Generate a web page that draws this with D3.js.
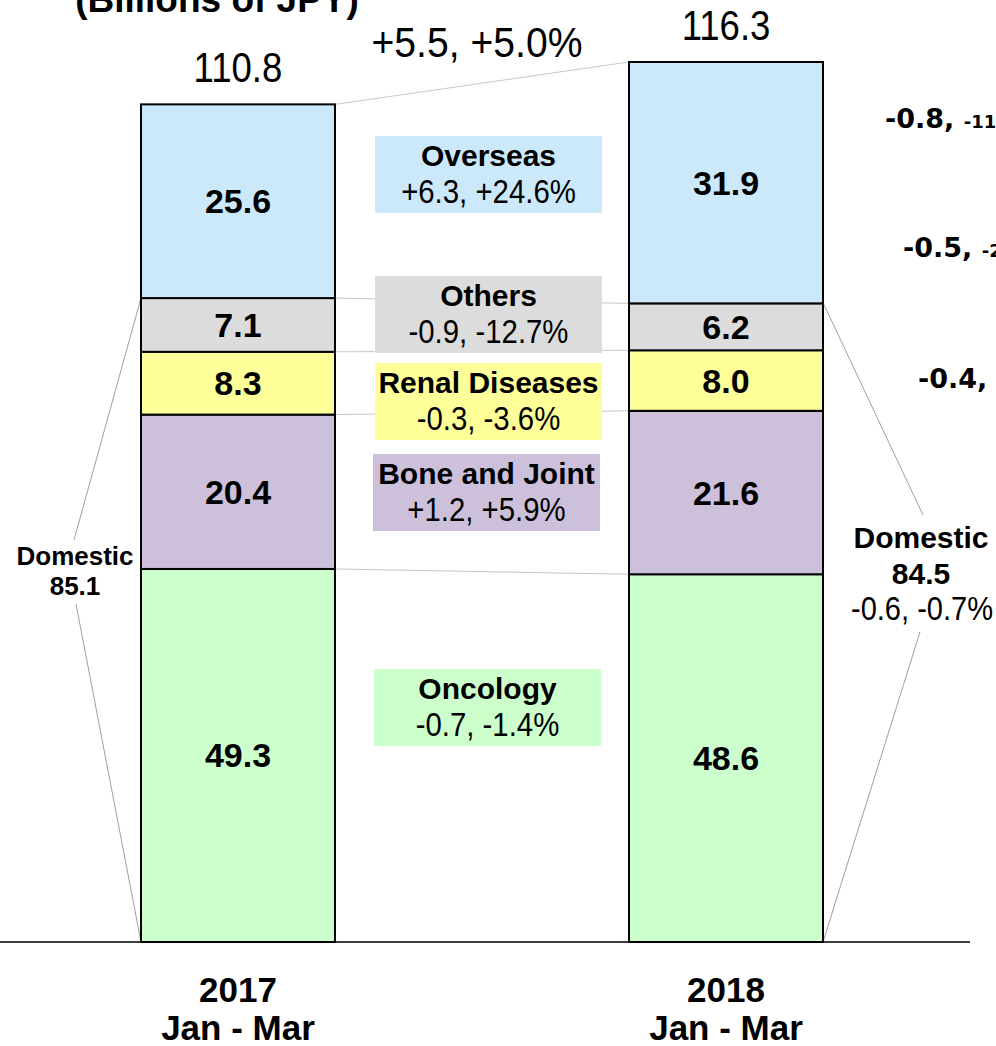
<!DOCTYPE html>
<html>
<head>
<meta charset="utf-8">
<script src="https://cdn.jsdelivr.net/npm/d3@7"></script>
<style>
  body { margin: 0; background: #fff; }
  svg { display: block; }
  .bold { font-family: "Liberation Sans", Arial, sans-serif; font-weight: 700; }
  .reg { font-family: "Liberation Sans", Arial, sans-serif; font-weight: 400; }
  .wide { font-family: "DejaVu Sans", Verdana, sans-serif; font-weight: 700; }
</style>
</head>
<body>
<svg id="chart" width="996" height="1046"></svg>
<script>
"use strict";

// categories, bottom to top in the stack
var segments = ["Oncology", "Bone and Joint", "Renal Diseases", "Others", "Overseas"];
var colors = ["#ccffcc", "#ccc0da", "#ffff99", "#dcdcdc", "#cce9fb"];

var periods = ["2017", "2018"];
var periodSub = ["Jan - Mar", "Jan - Mar"];

// values (billions of JPY)
var values2017 = [49.3, 20.4, 8.3, 7.1, 25.6];
var values2018 = [48.6, 21.6, 8.0, 6.2, 31.9];
var totals = [110.8, 116.3];
var domestic = [85.1, 84.5];

// change labels
var changes = ["-0.7, -1.4%", "+1.2, +5.9%", "-0.3, -3.6%", "-0.9, -12.7%", "+6.3, +24.6%"];
var totalChange = "+5.5, +5.0%";
var domesticChange = "-0.6, -0.7%";
var sideMain = ["-0.8,", "-0.5,", "-0.4,"];
var sideSmall = ["-11", "-2", "-"];

var svg = d3.select("#chart");

var baseY = 942;
var y = d3.scaleLinear().domain([0, 116.3]).range([baseY, 62]);
var x = d3.scaleBand().domain(periods).range([141, 823]).paddingInner(0.6025).paddingOuter(0);

// squeeze regular text a bit, the original uses a narrower face
function condense(sel, k) {
    sel.each(function() {
        var len = this.getComputedTextLength();
        d3.select(this).attr("textLength", len * k).attr("lengthAdjust", "spacingAndGlyphs");
    });
}

// stack each period's segments
var stacked = periods.map(function(p, pi) {
    var vals = pi === 0 ? values2017 : values2018;
    var acc = 0;
    return vals.map(function(v, i) {
        var d = { period: p, cat: segments[i], i: i, v: v, y0: acc, y1: acc + v };
        acc += v;
        return d;
    });
});

// title (cut off at top)
svg.append("text").attr("class", "bold")
    .attr("x", 217).attr("y", 12)
    .attr("text-anchor", "middle")
    .attr("font-size", 37)
    .text("(Billions of JPY)");

// connector lines between bars
var xl = x("2017") + x.bandwidth(), xr = x("2018");
var bounds = stacked[0].map(function(d, i) { return [d.y1, stacked[1][i].y1]; });
svg.append("g").selectAll("line").data(bounds).enter().append("line")
    .attr("x1", xl).attr("x2", xr)
    .attr("y1", function(d) { return y(d[0]); })
    .attr("y2", function(d) { return y(d[1]); })
    .attr("stroke", "#c8c8c8").attr("stroke-width", 1);

// domestic bracket lines
var dl = svg.append("g").attr("stroke", "#a0a0a0").attr("stroke-width", 1);
dl.append("line").attr("x1", x("2017")).attr("y1", y(domestic[0]))
    .attr("x2", 74).attr("y2", 540);
dl.append("line").attr("x1", 76).attr("y1", 604)
    .attr("x2", x("2017")).attr("y2", baseY);
dl.append("line").attr("x1", xr + x.bandwidth()).attr("y1", y(domestic[1]))
    .attr("x2", 923).attr("y2", 515);
dl.append("line").attr("x1", 920).attr("y1", 632)
    .attr("x2", xr + x.bandwidth()).attr("y2", baseY);

// legend boxes in the middle
var legendY = [669, 454, 363, 276, 136];
var legendX = [374, 373, 375, 375, 375];
var lg = svg.append("g").selectAll("g").data(segments).enter().append("g")
    .attr("transform", function(d, i) { return "translate(" + legendX[i] + "," + legendY[i] + ")"; });
lg.append("rect").attr("width", 227).attr("height", 77)
    .attr("fill", function(d, i) { return colors[i]; });
lg.append("text").attr("class", "bold")
    .attr("x", 113.5).attr("y", 30)
    .attr("text-anchor", "middle").attr("font-size", 30)
    .text(function(d) { return d; });
lg.append("text").attr("class", "reg")
    .attr("x", 113.5).attr("y", 67)
    .attr("text-anchor", "middle").attr("font-size", 33)
    .text(function(d, i) { return changes[i]; })
    .call(condense, 0.89);

// bars
var bars = svg.append("g").selectAll("g").data(stacked).enter().append("g");
bars.selectAll("rect").data(function(d) { return d; }).enter().append("rect")
    .attr("x", function(d) { return x(d.period); })
    .attr("width", x.bandwidth())
    .attr("y", function(d) { return y(d.y1); })
    .attr("height", function(d) { return y(d.y0) - y(d.y1); })
    .attr("fill", function(d) { return colors[d.i]; })
    .attr("stroke", "#000").attr("stroke-width", 2);
bars.selectAll("text").data(function(d) { return d; }).enter().append("text")
    .attr("class", "bold")
    .attr("x", function(d) { return x(d.period) + x.bandwidth() / 2; })
    .attr("y", function(d) { return (y(d.y0) + y(d.y1)) / 2 + 12; })
    .attr("text-anchor", "middle").attr("font-size", 34)
    .text(function(d) { return d.v.toFixed(1); });

// totals above bars
svg.selectAll(".total").data(periods).enter().append("text")
    .attr("class", "reg total")
    .attr("x", function(d) { return x(d) + x.bandwidth() / 2; })
    .attr("y", function(d, i) { return y(totals[i]) - 22; })
    .attr("text-anchor", "middle").attr("font-size", 42)
    .text(function(d, i) { return totals[i].toFixed(1); })
    .call(condense, 0.87);

svg.append("text").attr("class", "reg")
    .attr("x", 477).attr("y", 57)
    .attr("text-anchor", "middle").attr("font-size", 43)
    .text(totalChange)
    .call(condense, 0.91);

// baseline axis
svg.append("line").attr("x1", 0).attr("x2", 970)
    .attr("y1", baseY).attr("y2", baseY)
    .attr("stroke", "#000").attr("stroke-width", 1.5);

// period labels
var pl = svg.append("g").selectAll("g").data(periods).enter().append("g");
pl.append("text").attr("class", "bold")
    .attr("x", function(d) { return x(d) + x.bandwidth() / 2; })
    .attr("y", 1002).attr("text-anchor", "middle").attr("font-size", 35)
    .text(function(d) { return d; });
pl.append("text").attr("class", "bold")
    .attr("x", function(d) { return x(d) + x.bandwidth() / 2; })
    .attr("y", 1040).attr("text-anchor", "middle").attr("font-size", 35)
    .text(function(d, i) { return periodSub[i]; });

// domestic labels
svg.append("text").attr("class", "bold")
    .attr("x", 75).attr("y", 565).attr("text-anchor", "middle").attr("font-size", 26)
    .text("Domestic");
svg.append("text").attr("class", "bold")
    .attr("x", 75).attr("y", 595).attr("text-anchor", "middle").attr("font-size", 26)
    .text(domestic[0].toFixed(1));
svg.append("text").attr("class", "bold")
    .attr("x", 921).attr("y", 548).attr("text-anchor", "middle").attr("font-size", 30)
    .text("Domestic");
svg.append("text").attr("class", "bold")
    .attr("x", 921).attr("y", 584).attr("text-anchor", "middle").attr("font-size", 30)
    .text(domestic[1].toFixed(1));
svg.append("text").attr("class", "reg")
    .attr("x", 922).attr("y", 620).attr("text-anchor", "middle").attr("font-size", 33)
    .text(domesticChange)
    .call(condense, 0.88);

// right-hand side notes (cut off at edge)
var sideX = [885, 903, 918];
var sideY = [128, 257, 388];
var side = svg.append("g").selectAll("text").data(sideMain).enter().append("text")
    .attr("class", "wide")
    .attr("x", function(d, i) { return sideX[i]; })
    .attr("y", function(d, i) { return sideY[i]; })
    .attr("font-size", 27);
side.append("tspan").text(function(d) { return d + " "; });
side.append("tspan").attr("font-size", 18).text(function(d, i) { return sideSmall[i]; });
</script>
</body>
</html>
